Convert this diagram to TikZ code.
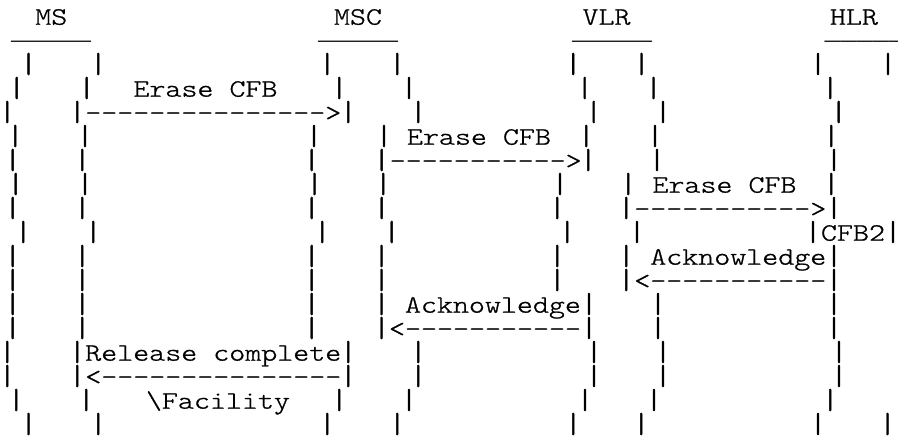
\documentclass[tikz,border=0pt]{standalone}
\usepackage{fontspec}
\newfontfamily\cour{lmmonolt10-regular.otf}[FakeStretch=1.219,FakeBold=0.9]
\newfontfamily\courbar{lmmonolt10-regular.otf}[FakeStretch=1.27,FakeBold=1.4]
\newfontfamily\undl{Liberation Mono}
\begin{document}
\begin{tikzpicture}[x=1pt,y=-1pt,
  bar/.style={inner sep=0pt, outer sep=0pt, anchor=base, font=\courbar\fontsize{28.5}{24}\selectfont},
  tx/.style={inner sep=0pt, outer sep=0pt, anchor=base west, font=\cour\fontsize{25}{24}\selectfont},
  ul/.style={inner sep=0pt, outer sep=0pt, anchor=base west, font=\undl\fontsize{26.67}{24}\selectfont}]
\useasboundingbox (0,0) rectangle (898,441);
\clip (0,0) rectangle (898,441);
\fill[white] (0,0) rectangle (898,441);
% headers
\node[tx] (ms)  at (35.3,24.7) {MS};
\node[tx] (msc) at (334,24.7) {MSC};
\node[tx] (vlr) at (582.5,24.7) {VLR};
\node[tx] (hlr) at (830,24.7) {HLR};
\node[ul] (msu)  at (11,39.2) {\_\_\_\_\_};
\node[ul] (mscu) at (318,39.2) {\_\_\_\_\_};
\node[ul] (vlru) at (572,39.2) {\_\_\_\_\_};
\node[ul] (hlru) at (824.7,39.2) {\_\_\_\_\_};
% lifeline bars
\foreach \r/\x in {0/28.6,1/16.7,2/7.3,3/15.3,4/12.7,5/15.7,6/12.7,7/23.3,8/12.7,9/12.7,10/12.7,11/12.7,12/7.3,13/7.3,14/16.3,15/28.5}
  {\node[bar] (msl\r) at (\x,{72.7+24*\r}) {|};}
\foreach \r/\x in {0/98.3,1/86.7,2/77.3,3/85,4/82.3,5/85,6/82.3,7/93.3,8/82.3,9/82.3,10/82.3,11/82.3,12/77.3,13/77.3,14/86.3,15/98.3}
  {\node[bar] (msr\r) at (\x,{72.7+24*\r}) {|};}
\foreach \r/\x in {0/327.3,1/339.3,2/348.3,3/314,4/311.7,5/314.5,6/311.7,7/322.3,8/311.7,9/311.7,10/311.7,11/311.7,12/348.3,13/348.3,14/339.3,15/327.3}
  {\node[bar] (mcl\r) at (\x,{72.7+24*\r}) {|};}
\foreach \r/\x in {0/397.3,1/409,2/418.3,3/384,4/381.7,5/383.3,6/381.7,7/391.7,8/381.5,9/381.5,10/381.5,11/381.5,12/418.3,13/418.3,14/409,15/397.3}
  {\node[bar] (mcr\r) at (\x,{72.7+24*\r}) {|};}
\foreach \r/\x in {0/573.2,1/584.8,2/593.8,3/586.3,4/588.3,5/560,6/557.3,7/567.3,8/557.3,9/557.3,10/589,11/589,12/594,13/594,14/585,15/573.3}
  {\node[bar] (vll\r) at (\x,{72.7+24*\r}) {|};}
\foreach \r/\x in {0/641.5,1/653.5,2/663,3/655,4/657,5/628.3,6/626.3,7/637,8/626.3,9/626.3,10/658,11/658,12/663,13/663,14/654,15/641.3}
  {\node[bar] (vlr\r) at (\x,{72.7+24*\r}) {|};}
\foreach \r/\x in {0/818,1/830.3,2/838.7,3/831.3,4/834,5/831.3,6/834,7/813,8/834,9/834,10/834,11/834,12/839,13/839,14/830.3,15/818}
  {\node[bar] (hll\r) at (\x,{72.7+24*\r}) {|};}
\foreach \r/\x in {0/888,7/893,15/887.5}
  {\node[bar] (hlr\r) at (\x,{72.7+24*\r}) {|};}
% messages
\node[tx] (m1)  at (133.5,{72.7+24*1}) {Erase CFB};
\node[tx] (a1)  at (85.3,{72.7+24*2}) {--------------->};
\node[tx] (m2)  at (407,{72.7+24*3}) {Erase CFB};
\node[tx] (a2)  at (389.7,{72.7+24*4}) {----------->};
\node[tx] (m3)  at (652.5,{72.7+24*5}) {Erase CFB};
\node[tx] (a3)  at (634.3,{72.7+24*6}) {----------->};
\node[tx] (cfb) at (821,{72.7+24*7}) {CFB2};
\node[tx] (m4)  at (650.3,{72.7+24*8}) {Acknowledge};
\node[tx] (a4)  at (634.3,{72.7+24*9}) {<-----------};
\node[tx] (m5)  at (405,{72.7+24*10}) {Acknowledge};
\node[tx] (a5)  at (389,{72.7+24*11}) {<-----------};
\node[tx] (m6)  at (85.3,{72.7+24*12}) {Release complete};
\node[tx] (a6)  at (85.3,{72.7+24*13}) {<---------------};
\node[tx] (m7)  at (146,{72.7+24*14}) {\textbackslash Facility};
\end{tikzpicture}
\end{document}
